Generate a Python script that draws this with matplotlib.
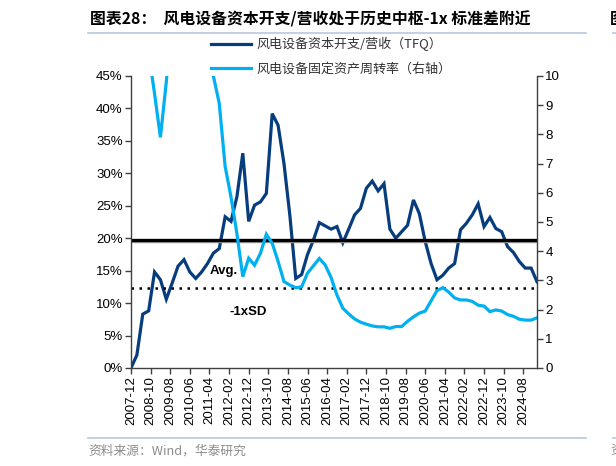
import matplotlib
matplotlib.use('Agg')
import matplotlib.pyplot as plt
from matplotlib.lines import Line2D
from matplotlib.ticker import FuncFormatter

plt.rcParams['font.family'] = ['Liberation Sans', 'Noto Sans CJK SC', 'DejaVu Sans']
CJK = ['Noto Sans CJK SC', 'DejaVu Sans']

# quarterly data, 2007-12 .. 2025-03 (months since 2007-12)
months = list(range(0, 210, 3))

# capex / revenue (TFQ), %
capex_ratio = [0.0, 2.0, 8.3, 8.8, 14.8, 13.6, 10.6, 13.1, 15.7, 16.7,
               14.8, 13.8, 14.8, 16.1, 17.7, 18.4, 23.3, 22.6, 26.4, 33.1,
               22.6, 25.1, 25.6, 26.9, 39.2, 37.4, 31.5, 23.5, 13.8, 14.4,
               17.5, 19.7, 22.4, 21.9, 21.4, 21.8, 19.3, 21.4, 23.6, 24.6,
               27.7, 28.8, 27.3, 28.4, 21.4, 20.0, 21.0, 22.0, 25.9, 23.8,
               19.5, 16.1, 13.6, 14.3, 15.4, 16.1, 21.3, 22.3, 23.6, 25.3,
               21.8, 23.2, 21.5, 21.0, 18.7, 17.8, 16.4, 15.4, 15.4, 13.3]

# fixed asset turnover (right axis); early values run off the top of the axis
turnover = [14.0, 16.0, 13.0, 10.8, 9.4, 7.9, 9.8, 12.0, 14.0, 15.0,
            14.0, 13.0, 13.0, 11.5, 10.0, 9.06, 6.9, 5.85, 4.6, 3.13,
            3.76, 3.52, 3.93, 4.58, 4.27, 3.65, 2.96, 2.84, 2.75, 2.78,
            3.25, 3.5, 3.75, 3.53, 3.1, 2.5, 2.05, 1.85, 1.68, 1.57,
            1.5, 1.44, 1.41, 1.41, 1.36, 1.42, 1.42, 1.6, 1.75, 1.88,
            1.95, 2.3, 2.65, 2.75, 2.6, 2.4, 2.33, 2.33, 2.28, 2.15,
            2.12, 1.93, 1.99, 1.95, 1.83, 1.77, 1.67, 1.64, 1.64, 1.72]

avg_level = 19.7
avg_level2 = 19.35
minus_sd_level = 12.4

tick_months = list(range(0, 201, 10))
tick_labels = ['2007-12', '2008-10', '2009-08', '2010-06', '2011-04', '2012-02',
               '2012-12', '2013-10', '2014-08', '2015-06', '2016-04', '2017-02',
               '2017-12', '2018-10', '2019-08', '2020-06', '2021-04', '2022-02',
               '2022-12', '2023-10', '2024-08']

dark = '#073d7d'
light = '#00b0f0'
axis_col = '#404040'

W, H = 616, 466
fig = plt.figure(figsize=(W / 100, H / 100), dpi=100)
ax = fig.add_axes([131 / W, 1 - 368 / H, (537 - 131) / W, (368 - 76) / H])
ax2 = ax.twinx()

l1, = ax.plot(months, capex_ratio, color=dark, lw=2.3, solid_joinstyle='miter')
l2, = ax2.plot(months, turnover, color=light, lw=2.3, solid_joinstyle='miter')

ax.axhline(avg_level2, color='#a0a0a0', lw=1.0)
ax.axhline(avg_level, color='black', lw=2.4)
ax.axhline(minus_sd_level, color='black', lw=1.8, ls=(0, (1, 2.2)))

ax.text(40, 15.0, 'Avg.', fontsize=9.5, fontweight='bold', va='center', ha='left')
ax.text(50, 8.7, '-1xSD', fontsize=9.5, fontweight='bold', va='center', ha='left')

ax.set_xlim(0, 207)
ax.set_ylim(0, 45)
ax2.set_ylim(0, 10)
ax.set_yticks(range(0, 46, 5))
ax.yaxis.set_major_formatter(FuncFormatter(lambda v, p: '%d%%' % v))
ax2.set_yticks(range(0, 11))
ax.set_xticks(tick_months)
ax.set_xticklabels(tick_labels, rotation=90)

for a in (ax, ax2):
    a.spines['top'].set_visible(False)
    for s in ('left', 'right', 'bottom'):
        a.spines[s].set_color(axis_col)
        a.spines[s].set_linewidth(1.0)
    a.tick_params(direction='out', length=4, width=1.0, color=axis_col,
                  labelsize=9.5, labelcolor='black', pad=2)
ax.spines['right'].set_visible(False)
ax2.spines['left'].set_visible(False)
ax2.spines['bottom'].set_visible(False)

leg = fig.legend([l1, l2], ['风电设备资本开支/营收（TFQ）', '风电设备固定资产周转率（右轴）'],
                 loc='upper left', bbox_to_anchor=(211 / W, 1 - 37 / H),
                 frameon=False, borderpad=0, borderaxespad=0, handlelength=3.1,
                 handletextpad=0.35, labelspacing=0.85,
                 prop={'family': CJK, 'size': 9.4})
for t in leg.get_texts():
    t.set_color('#333333')

# title, rules and source
fig.text(90 / W, 1 - 19 / H, '图表28：  风电设备资本开支/营收处于历史中枢-1x 标准差附近',
         family=CJK, fontsize=11.4, fontweight='bold', va='center', ha='left')
fig.text(610 / W, 1 - 19 / H, '图', family=CJK, fontsize=11.4, fontweight='bold',
         va='center', ha='left')
rule = '#b8c8dc'
fig.add_artist(Line2D([88 / W, 586 / W], [1 - 33 / H, 1 - 33 / H], color=rule, lw=1.2))
fig.add_artist(Line2D([88 / W, 586 / W], [1 - 438 / H, 1 - 438 / H], color=rule, lw=1.2))
fig.add_artist(Line2D([613 / W, 1.0], [1 - 33 / H, 1 - 33 / H], color=rule, lw=1.2))
fig.add_artist(Line2D([613 / W, 1.0], [1 - 438 / H, 1 - 438 / H], color=rule, lw=1.2))
fig.text(88 / W, 1 - 451 / H, '资料来源：Wind，华泰研究', family=CJK, fontsize=9.2,
         color='#8c8c8c', va='center', ha='left')
fig.text(610 / W, 1 - 451 / H, '资', family=CJK, fontsize=9.2,
         color='#8c8c8c', va='center', ha='left')

fig.savefig('out.png', dpi=100)
